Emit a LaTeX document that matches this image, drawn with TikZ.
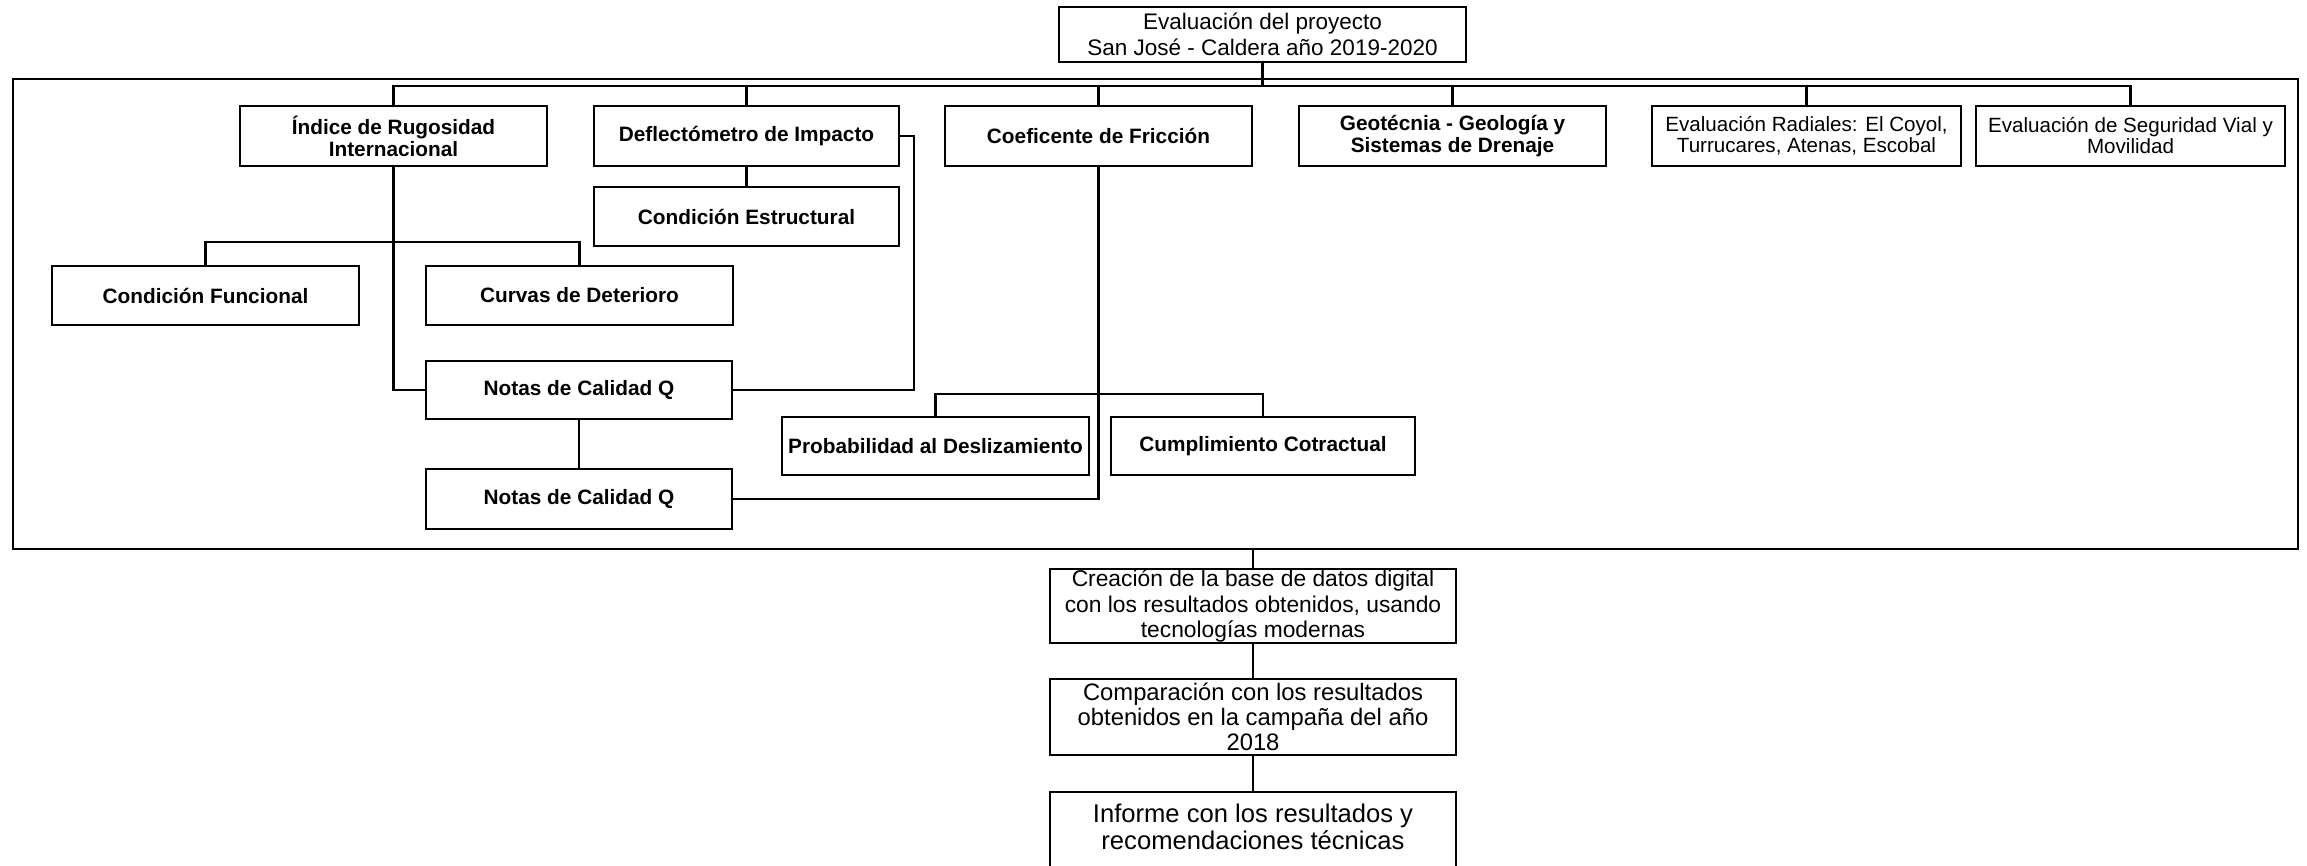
\documentclass[tikz,border=0pt]{standalone}
\usepackage{fontspec}
\setmainfont{Liberation Sans}
\begin{document}
\begin{tikzpicture}[x=1pt,y=-1pt,
  bx/.style={draw, line width=2.6pt, inner sep=0pt, align=center, minimum height=60pt, minimum width=307pt},
  ln/.style={line width=2.2pt},
  bf/.style={font=\fontsize{20.8}{22}\selectfont\bfseries},
  rg/.style={font=\fontsize{20.6}{21}\selectfont}]
\fill[white] (0,0) rectangle (2307,865);
\useasboundingbox (0,0) rectangle (2307,865);

% outer frame
\node[draw, line width=2.8pt, minimum width=2285pt, minimum height=470pt, inner sep=0pt] (frame) at (1155.5,314) {};

% top
\node[bx, minimum width=407pt, minimum height=55pt, font=\fontsize{22.5}{26}\selectfont] (top) at (1262.5,34.5) {Evaluación del proyecto\\San José - Caldera año 2019-2020};

% level 1
\node[bx, bf] (ind) at (393.5,136) {Índice de Rugosidad\\Internacional};
\node[bx, bf, minimum width=305pt] (def) at (746.5,136) {Deflectómetro de Impacto};
\node[bx, bf] (coef) at (1098.5,136) {Coeficente de Fricción};
\node[bx, bf] (geo) at (1452.5,136) {Geotécnia - Geología y\\Sistemas de Drenaje};
\node[bx, rg, minimum width=309pt] (rad) at (1806.5,136) {Evaluación Radiales: El Coyol,\\Turrucares, Atenas, Escobal};
\node[bx, rg, minimum width=309pt] (seg) at (2130.5,136) {Evaluación de Seguridad Vial y\\Movilidad};

% lower boxes
\node[bx, bf, minimum width=305pt, minimum height=59pt] (est) at (746.5,216.5) {Condición Estructural};
\node[bx, bf, minimum height=59pt] (fun) at (205.5,295.5) {Condición Funcional};
\node[bx, bf, minimum height=59pt] (cur) at (579.5,295.5) {Curvas de Deterioro};
\node[bx, bf, minimum width=306pt, minimum height=58pt] (not1) at (579,390) {Notas de Calidad Q};
\node[bx, bf, minimum width=306pt] (not2) at (579,499) {Notas de Calidad Q};
\node[bx, bf, minimum height=58pt] (prob) at (935.5,446) {Probabilidad al Deslizamiento};
\node[bx, bf, minimum width=304pt, minimum height=58pt] (cump) at (1263,446) {Cumplimiento Cotractual};

% bottom chain
\node[bx, minimum width=406pt, minimum height=74pt, font=\fontsize{22.8}{25.5}\selectfont] (cre) at (1253,606) {Creación de la base de datos digital\\con los resultados obtenidos, usando\\tecnologías modernas};
\node[bx, minimum width=406pt, minimum height=76pt, font=\fontsize{23.8}{25}\selectfont] (com) at (1253,717) {Comparación con los resultados\\obtenidos en la campaña del año\\2018};
\node[bx, minimum width=406pt, minimum height=90pt, font=\fontsize{25.6}{27}\selectfont, text height=40pt, text depth=16pt] (inf) at (1253,837) {\begin{tabular}[b]{@{}c@{}}Informe con los resultados y\\recomendaciones técnicas\end{tabular}};

% connectors
\coordinate (bus) at (1262,86);
\coordinate (ib) at (393.5,242);
\coordinate (dr) at (914,136);
\coordinate (pb) at (935.5,394);

\draw[ln] (top.south) -- (top.south |- bus);
\draw[ln] (ind.north) -- (ind.north |- bus) -- (seg.north |- bus) -- (seg.north);
\draw[ln] (def.north) -- (def.north |- bus);
\draw[ln] (coef.north) -- (coef.north |- bus);
\draw[ln] (geo.north) -- (geo.north |- bus);
\draw[ln] (rad.north) -- (rad.north |- bus);

\draw[ln] (ind.south) |- (not1.west);
\draw[ln] (fun.north) -- (fun.north |- ib) -- (cur.north |- ib) -- (cur.north);
\draw[ln] (def.south) -- (est.north);
\draw[ln] (def.east) -- (dr) |- (not1.east);
\draw[ln] (not1.south) -- (not2.north);
\draw[ln] (coef.south) |- (not2.east);
\draw[ln] (prob.north) -- (pb) -- (cump.north |- pb) -- (cump.north);

\draw[ln] (cre.north |- frame.south) -- (cre.north);
\draw[ln] (cre.south) -- (com.north);
\draw[ln] (com.south) -- (inf.north);
\end{tikzpicture}
\end{document}
